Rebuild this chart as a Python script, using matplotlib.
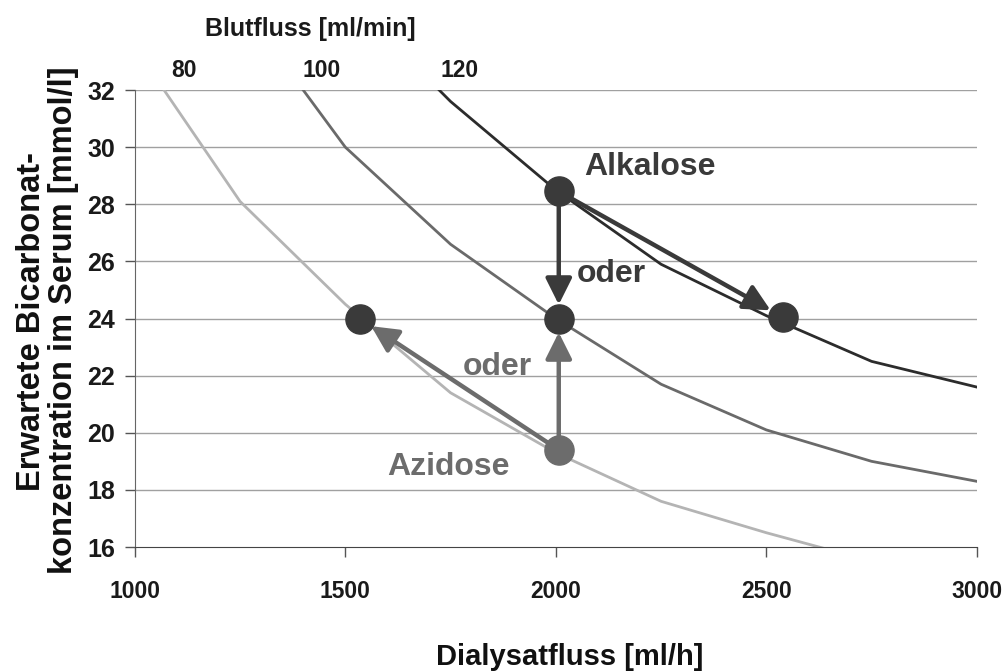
import matplotlib.pyplot as plt

plt.rcParams['font.family'] = ['Liberation Sans', 'DejaVu Sans']

# Dialysatfluss [ml/h] und erwartete Bicarbonat-Konzentration je Blutfluss
dialysat = [1000, 1250, 1500, 1750, 2000, 2250, 2500, 2750, 3000]
bic_80 = [33.5, 28.1, 24.5, 21.4, 19.3, 17.6, 16.5, 15.5, 14.8]
bic_100 = [38.5, 35.0, 30.0, 26.6, 24.0, 21.7, 20.1, 19.0, 18.3]
bic_120 = [41.0, 38.0, 35.3, 31.6, 28.5, 25.9, 24.1, 22.5, 21.6]

blutfluss_labels = ['80', '100', '120']
blutfluss_x = [1116, 1444, 1772]

# Punkte (Dialysatfluss, Bicarbonat)
alk_x, alk_y = 2007, 28.45
mid_x, mid_y = 2007, 24.0
right_x, right_y = 2539, 24.05
left_x, left_y = 1534, 24.0
azi_x, azi_y = 2007, 19.4

dark = '#3a3a3a'
mid = '#6c6c6c'

fig = plt.figure(figsize=(10.06, 6.72), dpi=100)
ax = fig.add_axes([0.134, 0.186, 0.837, 0.680])

for y in range(18, 33, 2):
    ax.axhline(y, color='#a0a0a0', lw=1, zorder=0)

ax.plot(dialysat, bic_80, color='#b4b4b4', lw=2)
ax.plot(dialysat, bic_100, color='#6a6a6a', lw=2)
ax.plot(dialysat, bic_120, color='#2c2c2c', lw=2)

ax.set_xlim(1000, 3000)
ax.set_ylim(16, 32)
ax.set_xticks([1000, 1500, 2000, 2500, 3000])
ax.set_yticks(range(16, 33, 2))
ax.tick_params(axis='both', colors='#555555', labelcolor='#1a1a1a', length=7, width=1)
ax.tick_params(axis='x', pad=17, labelsize=16.5)
ax.tick_params(axis='y', pad=7, labelsize=18)
for lab in ax.get_xticklabels() + ax.get_yticklabels():
    lab.set_fontweight('bold')
for s in ['top', 'right']:
    ax.spines[s].set_visible(False)
ax.spines['left'].set_color('#666666')
ax.spines['bottom'].set_color('#444444')

# Pfeile
def arrow(x0, y0, x1, y1, c):
    ax.annotate('', xy=(x1, y1), xytext=(x0, y0),
                arrowprops=dict(arrowstyle='-|>,head_length=0.8,head_width=0.4',
                                mutation_scale=20, color=c, lw=3.2,
                                shrinkA=10, shrinkB=10), zorder=4)

arrow(alk_x, alk_y, mid_x, mid_y, dark)
arrow(alk_x, alk_y, right_x, right_y, dark)
arrow(azi_x, azi_y, mid_x, mid_y, mid)
arrow(azi_x, azi_y, left_x, left_y, mid)

ax.plot([alk_x, mid_x, right_x, left_x], [alk_y, mid_y, right_y, left_y], 'o',
        color=dark, ms=21, zorder=5)
ax.plot([azi_x], [azi_y], 'o', color=mid, ms=21, zorder=5)

ax.text(2223, 29.02, 'Alkalose', color=dark, fontsize=23, fontweight='bold',
        ha='center', va='baseline')
ax.text(2133, 25.28, 'oder', color=dark, fontsize=23, fontweight='bold',
        ha='center', va='baseline')
ax.text(1862, 22.02, 'oder', color=mid, fontsize=23, fontweight='bold',
        ha='center', va='baseline')
ax.text(1746, 18.52, 'Azidose', color=mid, fontsize=23, fontweight='bold',
        ha='center', va='baseline')

top = ax.get_xaxis_transform()
for lab, x in zip(blutfluss_labels, blutfluss_x):
    ax.text(x, (547 - 77) / 457, lab, transform=top, fontsize=16.5,
            fontweight='bold', ha='center', va='baseline', color='#1a1a1a')
fig.text(310 / 1006, 1 - 36 / 672, 'Blutfluss [ml/min]', fontsize=18,
         fontweight='bold', ha='center', va='baseline', color='#1a1a1a')

fig.text(570 / 1006, 1 - 665 / 672, 'Dialysatfluss [ml/h]', fontsize=21,
         fontweight='bold', ha='center', va='baseline', color='#111111')
fig.text(40 / 1006, 1 - 322 / 672, 'Erwartete Bicarbonat-', fontsize=23.5,
         fontweight='bold', rotation=90, rotation_mode='anchor',
         ha='center', va='baseline', color='#111111')
fig.text(72 / 1006, 1 - 320 / 672, 'konzentration im Serum [mmol/l]', fontsize=23.5,
         fontweight='bold', rotation=90, rotation_mode='anchor',
         ha='center', va='baseline', color='#111111')

fig.savefig('out.png', dpi=100)
